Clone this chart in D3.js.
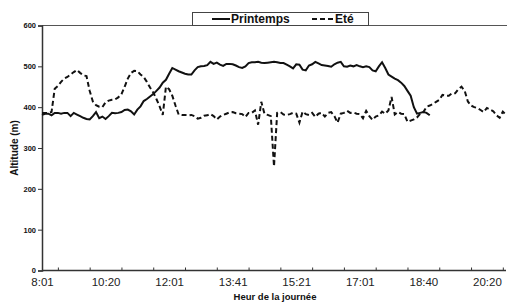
<!DOCTYPE html>
<html><head><meta charset="utf-8">
<script src="https://cdn.jsdelivr.net/npm/d3@7/dist/d3.min.js"></script>
<style>
html,body{margin:0;padding:0;background:#fff;}
svg{display:block;font-family:"Liberation Sans",Arial,sans-serif;}
</style></head>
<body>
<svg id="c" width="507" height="302"></svg>
<script>
const timeLabels = ["8:01","10:20","12:01","13:41","15:21","17:01","18:40","20:20"];
const labelIndex = [0,20,40,60,80,100,120,140];
const yTicks = [0,100,200,300,400,500,600];
const seriesNames = ["Printemps","Eté"];
const printemps = [381,384,384,380,386,386,384,386,386,378,386,382,378,374,371,370,378,388,373,377,
 371,378,386,385,386,388,393,394,390,382,394,402,415,420,426,432,440,448,460,467,
 482,496,492,488,485,482,480,480,490,498,500,501,503,511,506,509,504,501,506,506,
 505,502,498,496,500,508,510,510,511,509,508,509,510,511,510,508,508,504,500,495,
 505,504,492,490,502,505,511,507,503,502,501,499,505,509,511,500,499,502,500,503,
 500,498,500,498,490,488,500,510,496,480,475,470,466,460,452,440,428,400,384,386,
 388,386,380];
const ete = [386,386,386,388,445,452,462,470,474,480,486,491,484,478,476,440,414,405,401,400,
 412,416,418,419,424,432,450,470,484,489,488,480,474,462,448,436,420,402,381,450,
 444,428,404,382,381,381,380,381,378,372,374,379,380,383,378,370,377,381,384,387,
 388,385,384,383,376,386,386,392,357,413,384,381,378,255,386,388,382,381,383,386,
 384,362,389,383,381,386,376,384,386,377,386,388,378,362,384,386,391,386,387,384,
 383,373,391,378,369,377,380,389,384,392,425,382,388,384,383,364,367,370,375,384,
 388,401,404,408,413,418,430,428,428,434,434,444,450,440,414,404,400,398,393,388,
 398,394,390,380,374,389,381];

const svg = d3.select("#c");
const x = d3.scaleLinear().domain([0,146]).range([42,506]);
const y = d3.scaleLinear().domain([0,600]).range([270.5,25.5]);

// top border
svg.append("line").attr("x1",42).attr("x2",507).attr("y1",25.5).attr("y2",25.5)
  .attr("stroke","#555").attr("stroke-width",1);

// y axis
const ya = svg.append("g").attr("transform","translate(42,0)")
  .call(d3.axisLeft(y).tickValues(yTicks).tickSize(4).tickPadding(2).tickFormat(d3.format("d")));
ya.select(".domain").attr("stroke","#333").attr("stroke-width",1.5);
ya.selectAll(".tick line").attr("stroke","#333").attr("stroke-width",1);
ya.selectAll(".tick text").attr("font-size","7.5px").attr("font-weight","bold").attr("fill","#111")
  .attr("font-family","'Liberation Sans',Arial,sans-serif");

// x axis minor ticks
const minor = d3.range(5,146,10);
const xm = svg.append("g").attr("transform","translate(0,270.5)")
  .call(d3.axisBottom(x).tickValues(minor).tickSize(-3).tickFormat(""));
xm.select(".domain").attr("stroke","#333").attr("stroke-width",1.5).attr("d","M42,0H506");
xm.selectAll(".tick line").attr("stroke","#333").attr("stroke-width",1);

// x labels
const xl = svg.append("g").attr("transform","translate(0,270.5)")
  .call(d3.axisBottom(x).tickValues(labelIndex).tickSize(0).tickPadding(7)
    .tickFormat((d,i)=>timeLabels[i]));
xl.select(".domain").remove();
xl.selectAll(".tick text").attr("font-size","11.5px").attr("fill","#222")
  .attr("font-family","'Liberation Sans',Arial,sans-serif");

// axis titles
svg.append("text").attr("x",275).attr("y",300).attr("text-anchor","middle")
  .attr("font-size","9.5px").attr("font-weight","bold").attr("fill","#111").text("Heur de la journée");
svg.append("text").attr("transform","translate(18,148) rotate(-90)").attr("text-anchor","middle")
  .attr("font-size","10px").attr("font-weight","bold").attr("fill","#111").text("Altitude (m)");

// lines
const line = d3.line().x((d,i)=>x(i)).y(d=>y(d));
svg.append("path").datum(ete).attr("d",line).attr("fill","none")
  .attr("stroke","#111").attr("stroke-width",2).attr("stroke-dasharray","5,3");
svg.append("path").datum(printemps).attr("d",line).attr("fill","none")
  .attr("stroke","#111").attr("stroke-width",2);

// legend
const lg = svg.append("g");
lg.append("rect").attr("x",192.5).attr("y",12.5).attr("width",176).attr("height",13)
  .attr("fill","#fff").attr("stroke","#444").attr("stroke-width",1);
lg.append("line").attr("x1",212).attr("x2",230).attr("y1",19).attr("y2",19)
  .attr("stroke","#111").attr("stroke-width",2);
lg.append("text").attr("x",231).attr("y",23).attr("font-size","12px").attr("font-weight","bold")
  .attr("fill","#111").text(seriesNames[0]);
lg.append("line").attr("x1",312).attr("x2",335).attr("y1",19).attr("y2",19)
  .attr("stroke","#111").attr("stroke-width",2).attr("stroke-dasharray","5,3");
lg.append("text").attr("x",335).attr("y",23).attr("font-size","12px").attr("font-weight","bold")
  .attr("fill","#111").text(seriesNames[1]);
</script>
</body></html>
